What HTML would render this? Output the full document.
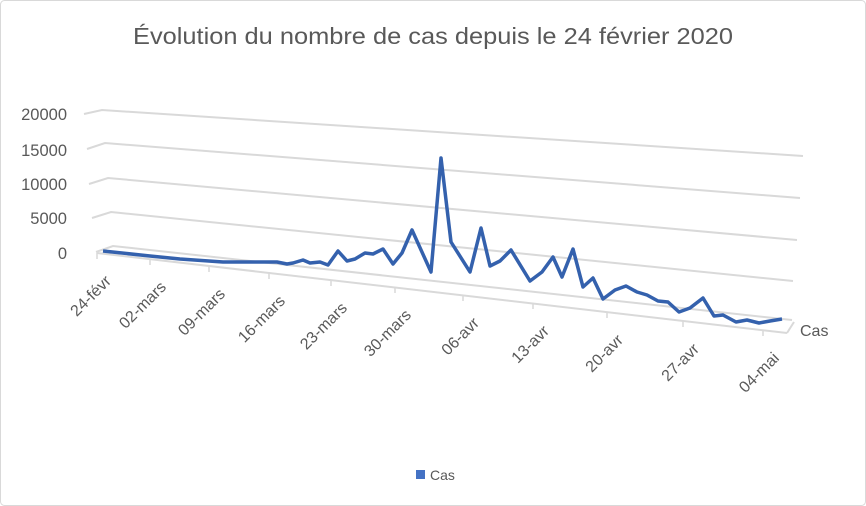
<!DOCTYPE html>
<html><head><meta charset="utf-8"><style>
html,body{margin:0;padding:0;background:#fff;}
svg{display:block;font-family:"Liberation Sans",sans-serif;}
</style></head><body>
<svg width="866" height="506" viewBox="0 0 866 506">
<rect x="0.5" y="0.5" width="865" height="505" rx="4" fill="#fff" stroke="#d9d9d9"/>
<text x="433" y="44" text-anchor="middle" font-size="23" fill="#595959" textLength="600" lengthAdjust="spacingAndGlyphs">Évolution du nombre de cas depuis le 24 février 2020</text>
<g stroke="#d9d9d9" stroke-width="2" fill="none">
<polyline points="84,114 102,110 803,156"/>
<polyline points="87,149 105,143 800,198"/>
<polyline points="89,184 108,178 797,240"/>
<polyline points="92,218 111,212 793,281"/>
<polyline points="96,252 113,246 792,320"/>
<line x1="97" y1="253" x2="787" y2="333"/>
<line x1="787" y1="333" x2="794" y2="322"/>
<g stroke-width="1.5">
<line x1="97" y1="253" x2="97" y2="259"/>
<line x1="150" y1="259" x2="150" y2="265"/>
<line x1="209" y1="266" x2="209" y2="272"/>
<line x1="269" y1="273" x2="269" y2="279"/>
<line x1="331" y1="280" x2="331" y2="286"/>
<line x1="395" y1="287" x2="395" y2="293"/>
<line x1="463" y1="295" x2="463" y2="301"/>
<line x1="533" y1="303" x2="533" y2="309"/>
<line x1="607" y1="312" x2="607" y2="318"/>
<line x1="683" y1="321" x2="683" y2="327"/>
<line x1="763" y1="330" x2="763" y2="336"/>
</g>
</g>
<g font-size="16.5" fill="#595959" text-anchor="end">
<text x="67" y="120">20000</text>
<text x="67" y="156">15000</text>
<text x="67" y="190">10000</text>
<text x="67" y="224">5000</text>
<text x="67" y="259">0</text>
</g>
<g font-size="16" fill="#595959" text-anchor="end">
<text transform="translate(112,282) rotate(-45)">24-févr</text>
<text transform="translate(167,288) rotate(-45)">02-mars</text>
<text transform="translate(226,295) rotate(-45)">09-mars</text>
<text transform="translate(286,302) rotate(-45)">16-mars</text>
<text transform="translate(348,309) rotate(-45)">23-mars</text>
<text transform="translate(412,316) rotate(-45)">30-mars</text>
<text transform="translate(480,324) rotate(-45)">06-avr</text>
<text transform="translate(550,332) rotate(-45)">13-avr</text>
<text transform="translate(624,341) rotate(-45)">20-avr</text>
<text transform="translate(700,350) rotate(-45)">27-avr</text>
<text transform="translate(780,359) rotate(-45)">04-mai</text>
</g>
<text x="800" y="336" font-size="16" fill="#595959">Cas</text>
<polyline fill="none" stroke="#3461ad" stroke-width="3.5" stroke-linejoin="round" points="103,251 150,256 180,259 223,262 277,262 287,264 293,263 303,260 310,263 320,262 328,265 338,251 347,261 355,259 365,253 373,254 383,249 393,264 402,253 412,230 431,272 441,158 451,242 470,272 481,228 490,266 500,261 511,250 530,281 542,272 553,257 562,277 573,249 583,287 593,278 603,299 615,290 626,286 637,292 647,295 658,301 668,302 679,312 690,308 703,298 714,316 723,315 736,322 747,320 759,323 770,321 782,319"/>
<rect x="416" y="470" width="9" height="9" fill="#4472c4"/>
<text x="430" y="480" font-size="14" fill="#595959">Cas</text>
</svg>
</body></html>
